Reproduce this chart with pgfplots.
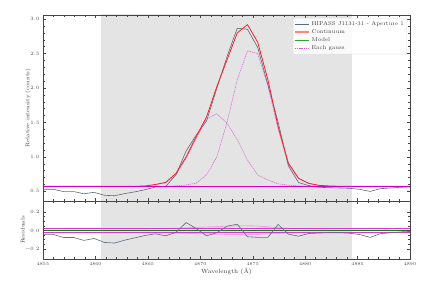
\documentclass[border=0pt]{standalone}
\usepackage{pgfplots}
\pgfplotsset{compat=1.18}
\usepackage{pgfplotstable}
\definecolor{datagray}{HTML}{5A6B7B}
\definecolor{modred}{HTML}{FF1E28}
\definecolor{solmag}{HTML}{D000CC}
\definecolor{dashmag}{HTML}{D65CD6}
\definecolor{pinkfade}{HTML}{F0A0F0}
\definecolor{modgreen}{HTML}{008A00}
\definecolor{shade}{HTML}{E4E4E4}
\definecolor{axgray}{HTML}{444444}

\pgfplotstableread{
x        data   model  ga     gb     res
4855.000 0.530  0.573  0.573  0.573  -0.043
4855.975 0.530  0.573  0.573  0.573  -0.043
4856.950 0.497  0.573  0.573  0.573  -0.076
4857.925 0.497  0.573  0.573  0.573  -0.076
4858.900 0.465  0.573  0.573  0.573  -0.108
4859.875 0.486  0.573  0.573  0.573  -0.087
4860.850 0.443  0.573  0.573  0.573  -0.130
4861.825 0.436  0.573  0.573  0.573  -0.137
4862.800 0.468  0.573  0.573  0.573  -0.105
4863.775 0.493  0.573  0.573  0.573  -0.080
4864.750 0.524  0.578  0.578  0.573  -0.054
4865.725 0.564  0.600  0.598  0.573  -0.036
4866.700 0.572  0.630  0.625  0.573  -0.058
4867.675 0.738  0.760  0.740  0.580  -0.022
4868.650 1.086  1.000  0.980  0.592   0.086
4869.625 1.320  1.300  1.270  0.620   0.020
4870.600 1.522  1.580  1.550  0.740  -0.058
4871.575 1.995  2.020  1.625  1.000  -0.025
4872.550 2.456  2.410  1.490  1.500   0.046
4873.525 2.868  2.800  1.250  2.120   0.068
4874.500 2.852  2.920  0.955  2.540  -0.068
4875.475 2.590  2.665  0.740  2.500  -0.075
4876.450 2.045  2.120  0.665  2.030  -0.075
4877.425 1.505  1.440  0.610  1.400   0.065
4878.400 0.870  0.910  0.590  0.890  -0.040
4879.375 0.628  0.690  0.580  0.680  -0.062
4880.350 0.583  0.616  0.576  0.613  -0.033
4881.325 0.559  0.587  0.573  0.587  -0.028
4882.300 0.553  0.578  0.573  0.578  -0.025
4883.275 0.549  0.574  0.573  0.573  -0.025
4884.250 0.544  0.574  0.573  0.573  -0.030
4885.225 0.529  0.574  0.573  0.573  -0.045
4886.200 0.499  0.574  0.573  0.573  -0.075
4887.175 0.539  0.574  0.573  0.573  -0.035
4888.150 0.549  0.574  0.573  0.573  -0.025
4889.125 0.559  0.574  0.573  0.573  -0.015
4890.100 0.564  0.574  0.573  0.573  -0.010
}\spec

\pgfplotstableread{
x        up     lo
4855.0   0.017  -0.022
4864.750 0.017  -0.022
4866.700 0.020  -0.025
4868.650 0.028  -0.031
4870.600 0.038  -0.038
4872.550 0.046  -0.043
4873.525 0.052  -0.045
4874.500 0.052  -0.045
4875.475 0.048  -0.043
4876.450 0.040  -0.036
4877.425 0.030  -0.030
4878.400 0.022  -0.025
4879.375 0.018  -0.023
4880.350 0.017  -0.022
4890.0   0.017  -0.022
}\pink

\pgfplotsset{
  common/.style={
    scale only axis, width=367bp,
    xmin=4855, xmax=4890,
    axis on top,
    axis line style={axgray, line width=0.6pt},
    every tick/.style={axgray, line width=0.4pt},
    tick align=inside,
    xtick pos=both, ytick pos=both,
    major tick length=3bp, minor tick length=1.6bp,
    xtick={4855,4860,...,4890},
    minor x tick num=4,
    tick label style={font=\fontsize{4.5}{5}\selectfont, text=black!70},
    /pgf/number format/.cd, fixed, fixed zerofill, precision=1, 1000 sep={},
  }
}

\begin{document}
\begin{tikzpicture}[font=\fontsize{5.5}{6.5}\selectfont]
\path[use as bounding box] (-43bp,-29bp) rectangle (389bp,259bp);

% top panel
\begin{axis}[common,
  at={(0bp,58bp)}, height=186bp,
  ymin=0.36, ymax=3.06,
  ytick={0.5,1.0,...,3.0},
  minor y tick num=4,
  xticklabels={},
  ylabel={Relative intensity (counts)},
  ylabel style={at={(axis description cs:-0.041,0.5)}, anchor=center, font=\fontsize{5.5}{6}\selectfont, text=black!75},
  legend style={at={(rel axis cs:0.992,0.984)}, anchor=north east,
    font=\fontsize{5.6}{6.5}\selectfont, draw=black!12, fill=white, fill opacity=0.85, text opacity=1,
    rounded corners=1pt, inner sep=1pt, row sep=-1.2pt, text=black!75},
  legend cell align=left,
  legend image code/.code={\draw[#1] (0cm,0cm) -- (0.5cm,0cm);},
]
\addplot[fill=shade, draw=none, forget plot] coordinates {(4860.5,0.3) (4884.5,0.3) (4884.5,3.2) (4860.5,3.2)} -- cycle;
\addplot[dashmag, dash pattern=on 1.4pt off 0.8pt, line width=0.5pt, forget plot] table[x=x,y=ga] {\spec};
\addplot[dashmag, dash pattern=on 1.4pt off 0.8pt, line width=0.5pt, forget plot] table[x=x,y=gb] {\spec};
\addplot[datagray, line width=0.6pt, forget plot] table[x=x,y=data] {\spec};
\addplot[modred, line width=0.8pt, forget plot] table[x=x,y=model] {\spec};
\addplot[solmag, line width=1.1pt, forget plot] coordinates {(4855,0.573) (4890,0.573)};
\addlegendimage{datagray, line width=0.7pt}
\addlegendentry{HIPASS J1131-31 - Aperture 1}
\addlegendimage{modred!55, line width=1.4pt}
\addlegendentry{Continuum}
\addlegendimage{modgreen!80, line width=1.4pt}
\addlegendentry{Model}
\addlegendimage{dashmag, dash pattern=on 1.4pt off 0.8pt, line width=0.6pt}
\addlegendentry{Each gauss}
\end{axis}

% bottom panel
\begin{axis}[common,
  at={(0bp,0bp)}, height=58bp,
  ymin=-0.31, ymax=0.32,
  ytick={-0.2,0.0,0.2},
  minor y tick num=3,
  xticklabels={4855,4860,4865,4870,4875,4880,4885,4890},
  ylabel={Residuals},
  ylabel style={at={(axis description cs:-0.055,0.5)}, anchor=center, font=\fontsize{5.5}{6}\selectfont, text=black!75},
  xlabel={Wavelength (\AA)},
  xlabel style={at={(axis description cs:0.5,-0.22)}, anchor=center, font=\fontsize{6}{7}\selectfont, text=black!75},
]
\addplot[fill=shade, draw=none] coordinates {(4860.5,-0.4) (4884.5,-0.4) (4884.5,0.4) (4860.5,0.4)} -- cycle;
\addplot[pinkfade, line width=0.8pt] table[x=x,y=up] {\pink};
\addplot[pinkfade, line width=0.8pt] table[x=x,y=lo] {\pink};
\addplot[solmag!80, line width=0.9pt] coordinates {(4855,0.017) (4890,0.017)};
\addplot[solmag!80, line width=0.9pt] coordinates {(4855,-0.022) (4890,-0.022)};
\addplot[modgreen, line width=0.9pt] coordinates {(4855,0) (4890,0)};
\addplot[datagray, line width=0.6pt] table[x=x,y=res] {\spec};
\end{axis}
\end{tikzpicture}
\end{document}
